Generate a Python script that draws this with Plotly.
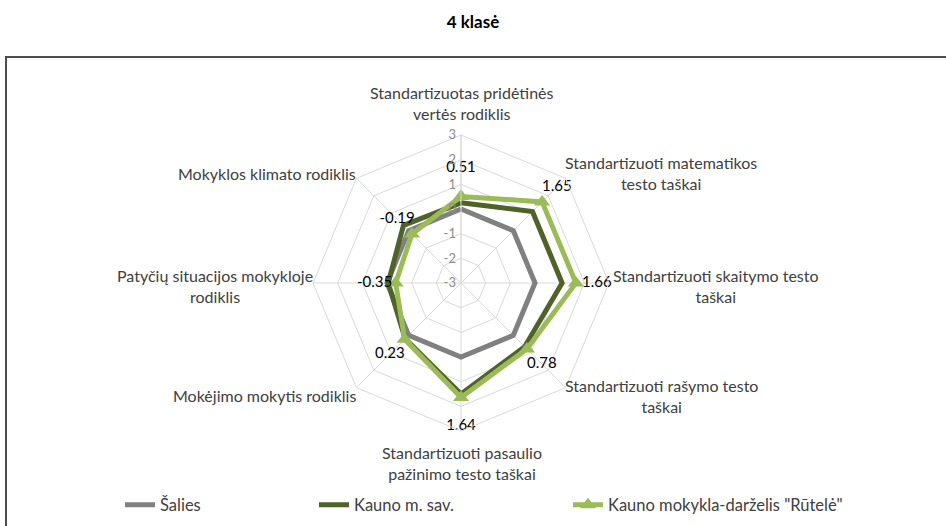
import math
import plotly.graph_objects as go

# ---------------- data ----------------
categories = [
    "Standartizuotas pridėtinės<br>vertės rodiklis",
    "Standartizuoti matematikos<br>testo taškai",
    "Standartizuoti skaitymo testo<br>taškai",
    "Standartizuoti rašymo testo<br>taškai",
    "Standartizuoti pasaulio<br>pažinimo testo taškai",
    "Mokėjimo mokytis rodiklis",
    "Patyčių situacijos mokykloje<br>rodiklis",
    "Mokyklos klimato rodiklis",
]
cat_ids = ["c%d" % i for i in range(len(categories))]

salies = [0, 0, 0, 0, 0, 0, 0, 0]
kauno_sav = [0.25, 1.1, 1.1, 0.65, 1.5, 0.2, -0.05, 0.3]
rutele = [0.51, 1.65, 1.66, 0.78, 1.64, 0.23, -0.35, -0.19]
rutele_labels = ["%.2f" % v for v in rutele]
radial_ticks = [-3, -2, -1, 0, 1, 2, 3]
radial_tick_labels = ["-3", "-2", "-1", "0", "1", "2", "3"]

# plotly hides markers/text when a linear-grid polar axis starts below 0,
# so the radial axis is drawn from 0 and the values are offset by its minimum
AXIS_MIN = -3
AXIS_MAX = 3
LABEL_GAP = 0.85  # radial gap between a marker and its data label (axis units)

FONT = "Lato, 'Noto Sans', sans-serif"


def to_axis(seq):
    return [v - AXIS_MIN for v in seq]


def closed(seq):
    return list(seq) + [seq[0]]


n = len(categories)
label_pos = []
for i in range(n):
    s = math.sin(math.radians(90 - 360.0 * i / n))
    if s > 0.99:
        label_pos.append("top center")
    elif s < -0.99:
        label_pos.append("bottom center")
    else:
        label_pos.append("middle center")

fig = go.Figure()
fig.add_trace(go.Scatterpolar(
    r=closed(to_axis(salies)), theta=closed(cat_ids), mode="lines", name="Šalies",
    line=dict(color="#808080", width=5), legend="legend", hoverinfo="skip"))
fig.add_trace(go.Scatterpolar(
    r=closed(to_axis(kauno_sav)), theta=closed(cat_ids), mode="lines",
    name="Kauno m. sav.", line=dict(color="#4f6228", width=5), legend="legend2",
    hoverinfo="skip"))
fig.add_trace(go.Scatterpolar(
    r=closed(to_axis(rutele)), theta=closed(cat_ids), mode="lines+markers",
    name='Kauno mokykla-darželis "Rūtelė"',
    line=dict(color="#9bbb59", width=5),
    marker=dict(symbol="triangle-up", size=14, color="#9bbb59"),
    legend="legend3", hoverinfo="skip"))
# data labels, just outside each marker along its spoke
fig.add_trace(go.Scatterpolar(
    r=[v + LABEL_GAP for v in to_axis(rutele)], theta=cat_ids, mode="text",
    text=rutele_labels, textposition=label_pos, cliponaxis=False,
    textfont=dict(family=FONT, size=15, color="#000000"),
    showlegend=False, hoverinfo="skip"))

# ---------------- layout ----------------
W, H = 946, 526
cx, cy, R = 461, 283, 148

# category labels placed at the outer vertices of the octagon
annotations = []
for i, txt in enumerate(categories):
    ang = math.radians(90 - 360.0 * i / n)
    vx = cx + R * math.cos(ang)
    vy = cy - R * math.sin(ang)
    c = math.cos(ang)
    s = math.sin(ang)
    if abs(c) < 1e-6:
        xanchor = "center"
        yanchor = "bottom" if s > 0 else "top"
        xs, ys = 1, (10 if s > 0 else -10)
    else:
        xanchor = "left" if c > 0 else "right"
        yanchor = "middle"
        xs = -3 if c > 0 else 2
        if abs(s) < 1e-6:
            ys = -3
            if c > 0:
                xs = 2
        else:
            ys = 5 if s > 0 else -8
    annotations.append(dict(
        text=txt, x=vx / W, y=1 - vy / H, xref="paper", yref="paper",
        xanchor=xanchor, yanchor=yanchor, xshift=xs, yshift=ys,
        align="center", showarrow=False,
        font=dict(family=FONT, size=16, color="#404040")))

LEG_Y = 1 - 505 / H
leg_font = dict(family=FONT, size=16.5, color="#404040")

fig.update_layout(
    width=W, height=H,
    margin=dict(l=0, r=0, t=0, b=0),
    paper_bgcolor="white",
    font=dict(family=FONT, size=16, color="#404040"),
    title=dict(text="<b>4 klasė</b>", x=0.5, xanchor="center", y=1 - 22 / H,
               yanchor="middle", font=dict(family=FONT, size=17, color="#000000")),
    polar=dict(
        domain=dict(x=[(cx - R) / W, (cx + R) / W],
                    y=[(H - cy - R) / H, (H - cy + R) / H]),
        bgcolor="white",
        gridshape="linear",
        radialaxis=dict(range=[0, AXIS_MAX - AXIS_MIN],
                        tickvals=to_axis(radial_ticks), ticktext=radial_tick_labels,
                        angle=90, tickangle=90, side="counterclockwise",
                        showline=True, linecolor="#d9d9d9", linewidth=1,
                        gridcolor="#d9d9d9", gridwidth=1,
                        ticks="", tickfont=dict(family=FONT, size=13, color="#8c8c8c")),
        angularaxis=dict(direction="clockwise", rotation=90,
                         categoryorder="array", categoryarray=cat_ids,
                         tickvals=cat_ids, showticklabels=False, ticks="",
                         showline=True, linecolor="#d9d9d9", linewidth=1,
                         gridcolor="#d9d9d9", gridwidth=1),
    ),
    annotations=annotations,
    legend=dict(orientation="h", x=120 / W, xanchor="left", y=LEG_Y, yanchor="middle",
                font=leg_font, itemwidth=30, bgcolor="rgba(0,0,0,0)"),
    legend2=dict(orientation="h", x=314 / W, xanchor="left", y=LEG_Y, yanchor="middle",
                 font=leg_font, itemwidth=30, bgcolor="rgba(0,0,0,0)"),
    legend3=dict(orientation="h", x=568 / W, xanchor="left", y=LEG_Y, yanchor="middle",
                 font=leg_font, itemwidth=30, bgcolor="rgba(0,0,0,0)"),
    shapes=[dict(type="rect", xref="paper", yref="paper",
                 x0=6 / W, x1=1.01, y0=-0.01, y1=1 - 57 / H,
                 line=dict(color="#4d4d4d", width=2), fillcolor="rgba(0,0,0,0)",
                 layer="below")],
)

fig.write_html("out.html", config={"displayModeBar": False},
               post_script="document.body.style.margin='0';")
